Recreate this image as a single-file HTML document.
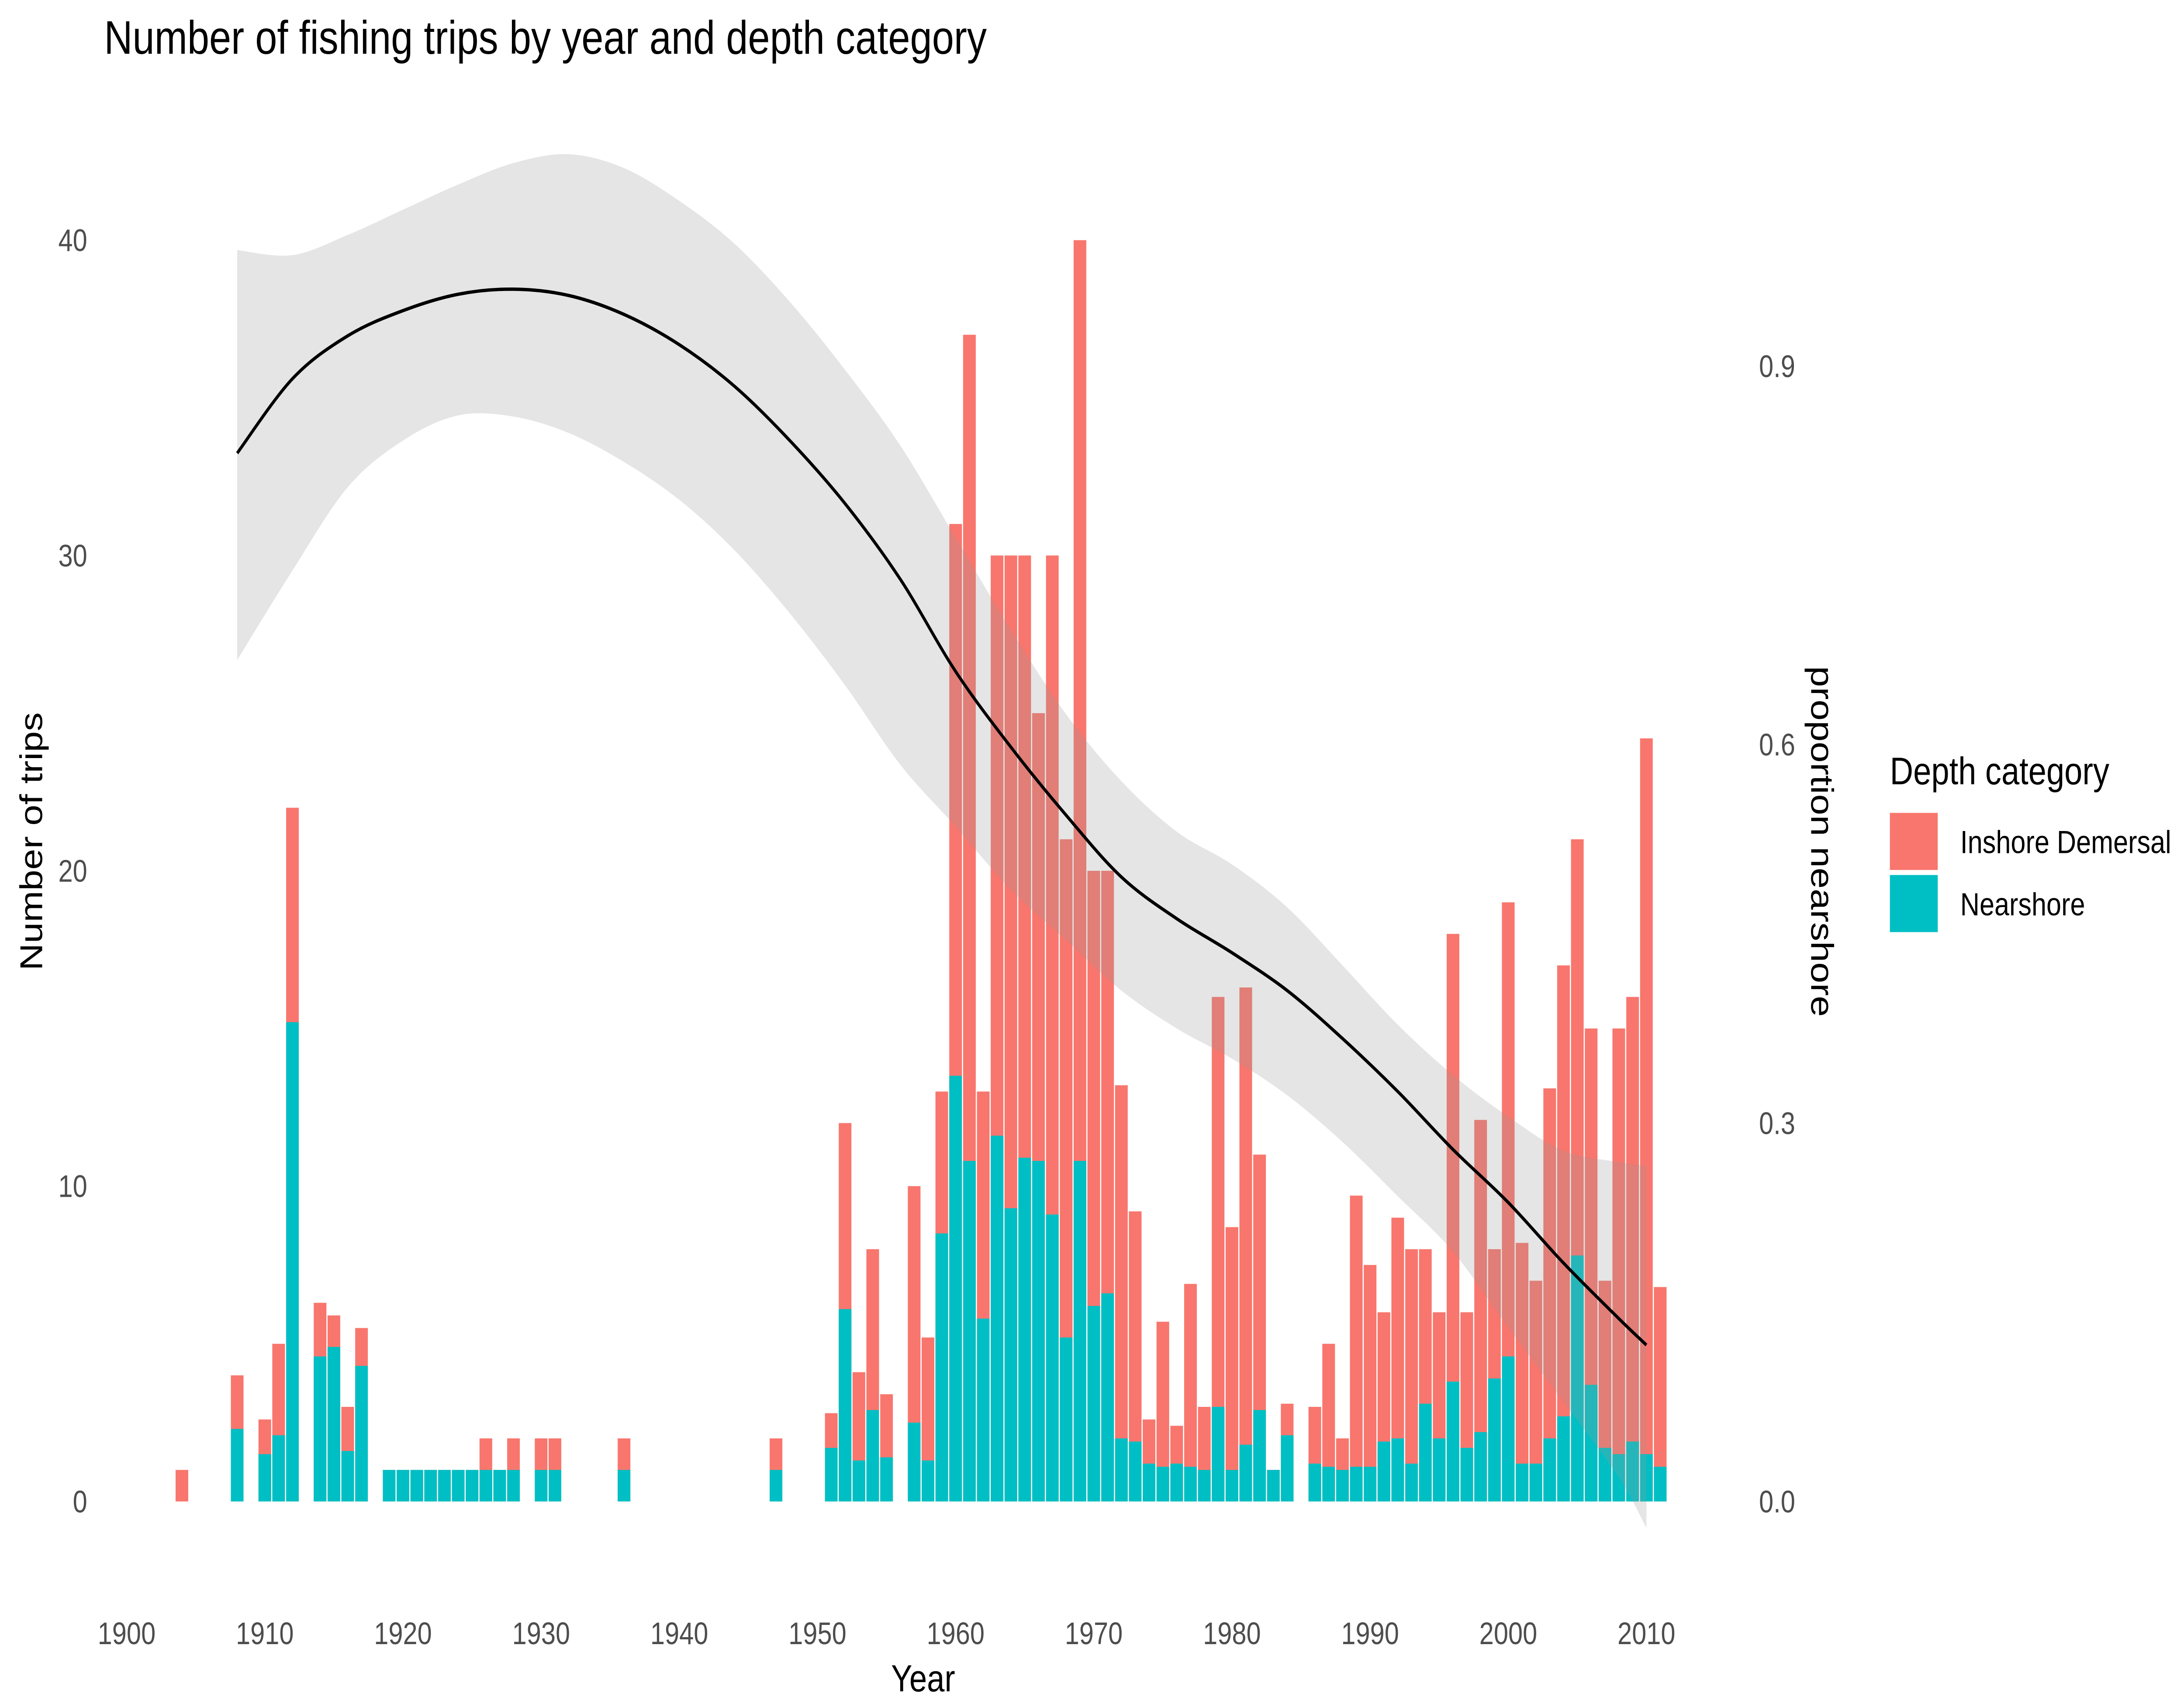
<!DOCTYPE html>
<html><head><meta charset="utf-8"><style>
html,body{margin:0;padding:0;background:#fff;overflow:hidden;width:100%;height:100%;}
svg{display:block;width:100vw;height:100vh;font-family:"Liberation Sans",sans-serif;}
</style></head><body>
<svg id="chart" viewBox="0 0 1552 1014.6" preserveAspectRatio="none">
<text x="74" y="32" font-size="28" fill="#000">Number of fishing trips by year and depth category</text>
<g id="bars"></g>
<g id="smooth"></g>
<g id="axes"></g>
<text x="0" y="0" transform="translate(30,501) rotate(-90)" text-anchor="middle" font-size="22.5">Number of trips</text>
<text x="0" y="0" transform="translate(1287,501) rotate(90)" text-anchor="middle" font-size="22.5">proportion nearshore</text>
<text x="656" y="1007" text-anchor="middle" font-size="22.5">Year</text>
<g>
<text x="1343" y="467" font-size="23">Depth category</text>
<rect x="1343" y="484" width="34" height="34" fill="#F8766D"/>
<text x="1393" y="508" font-size="19">Inshore Demersal</text>
<rect x="1343" y="521" width="34" height="34" fill="#00BFC4"/>
<text x="1393" y="545" font-size="19">Nearshore</text>
</g>
</svg>
<script>
const years=[1904,1908,1910,1911,1912,1914,1915,1916,1917,1919,1920,1921,1922,1923,1924,1925,1926,1927,1928,1930,1931,1936,1947,1951,1952,1953,1954,1955,1957,1958,1959,1960,1961,1962,1963,1964,1965,1966,1967,1968,1969,1970,1971,1972,1973,1974,1975,1976,1977,1978,1979,1980,1981,1982,1983,1984,1986,1987,1988,1989,1990,1991,1992,1993,1994,1995,1996,1997,1998,1999,2000,2001,2002,2003,2004,2005,2006,2007,2008,2009,2010,2011];
const totals=[1,4,2.6,5,22,6.3,5.9,3,5.5,1,1,1,1,1,1,1,2,1,2,2,2,2,2,2.8,12,4.1,8,3.4,10,5.2,13,31,37,13,30,30,30,25,30,21,40,20,20,13.2,9.2,2.6,5.7,2.4,6.9,3,16,8.7,16.3,11,1,3.1,3,5,2,9.7,7.5,6,9,8,8,6,18,6,12.1,8,19,8.2,7,13.1,17,21,15,7,15,16,24.2,6.8];
const nearshore=[0,2.3,1.5,2.1,15.2,4.6,4.9,1.6,4.3,1,1,1,1,1,1,1,1,1,1,1,1,1,1,1.7,6.1,1.3,2.9,1.4,2.5,1.3,8.5,13.5,10.8,5.8,11.6,9.3,10.9,10.8,9.1,5.2,10.8,6.2,6.6,2.0,1.9,1.2,1.1,1.2,1.1,1,3,1,1.8,2.9,1,2.1,1.2,1.1,1,1.1,1.1,1.9,2,1.2,3.1,2,3.8,1.7,2.2,3.9,4.6,1.2,1.2,2,2.7,7.8,3.7,1.7,1.5,1.9,1.5,1.1];
const fitYears=[1908,1912,1916,1920,1924,1928,1932,1936,1940,1944,1948,1952,1956,1960,1964,1968,1972,1976,1980,1984,1988,1992,1996,2000,2004,2008,2010];
const fitValues=[.831,.890,.924,.944,.957,.961,.956,.941,.917,.884,.841,.791,.731,.658,.598,.544,.495,.462,.435,.405,.367,.325,.279,.237,.189,.145,.124];
const fitUpper=[.992,.988,1.004,1.024,1.044,1.061,1.068,1.057,1.031,.997,.951,.897,.837,.764,.691,.624,.571,.531,.505,.471,.425,.378,.338,.305,.278,.269,.266];
const fitLower=[.667,.738,.804,.841,.861,.860,.847,.824,.794,.754,.704,.647,.584,.535,.485,.445,.405,.375,.351,.322,.285,.242,.198,.138,.079,.019,-.021];
const xTicks=[1900,1910,1920,1930,1940,1950,1960,1970,1980,1990,2000,2010];
const yTicks=[0,10,20,30,40];
const y2Ticks=[0.0,0.3,0.6,0.9];

const NS="http://www.w3.org/2000/svg";
const X=y=>90+(y-1900)*9.818;
const Y=v=>894-v*18.775;
const Y2=p=>894-p*751.1;
function mk(tag,attrs,parent){const e=document.createElementNS(NS,tag);for(const k in attrs)e.setAttribute(k,attrs[k]);parent.appendChild(e);return e;}
const bars=document.getElementById('bars');
years.forEach((yr,i)=>{
  const x=X(yr)-4.5;
  const r1=mk('rect',{x:x,y:Y(totals[i]),width:9,height:Y(0)-Y(totals[i]),fill:'#F8766D'},bars);
  
  
  if(nearshore[i]>0){
    const r2=mk('rect',{x:x,y:Y(nearshore[i]),width:9,height:Y(0)-Y(nearshore[i]),fill:'#00BFC4'},bars);
    
    
  }
});
const sm=document.getElementById('smooth');
function smoothPath(xs,ys){let d='M'+xs[0]+','+ys[0];for(let i=0;i<xs.length-1;i++){const x0=xs[Math.max(i-1,0)],y0=ys[Math.max(i-1,0)],x1=xs[i],y1=ys[i],x2=xs[i+1],y2=ys[i+1],x3=xs[Math.min(i+2,xs.length-1)],y3=ys[Math.min(i+2,xs.length-1)];d+=' C'+(x1+(x2-x0)/6)+','+(y1+(y2-y0)/6)+' '+(x2-(x3-x1)/6)+','+(y2-(y3-y1)/6)+' '+x2+','+y2;}return d;}
const fx=fitYears.map(X);
const up=smoothPath(fx,fitUpper.map(Y2));
const lo=smoothPath(fx.slice().reverse(),fitLower.map(Y2).reverse());
const band=mk('path',{d:up+' L'+lo.slice(1)+' Z',fill:'#999999','fill-opacity':0.25},sm);


const line=mk('path',{d:smoothPath(fx,fitValues.map(Y2)),fill:'none',stroke:'#000','stroke-width':2},sm);


const ax=document.getElementById('axes');
xTicks.forEach(t=>{const e=mk('text',{x:X(t),y:979,'text-anchor':'middle','font-size':18.5,fill:'#4d4d4d'},ax);e.textContent=t;

});
yTicks.forEach(t=>{const e=mk('text',{x:62,y:Y(t)+6.5,'text-anchor':'end','font-size':18.5,fill:'#4d4d4d'},ax);e.textContent=t;

});
y2Ticks.forEach(t=>{const e=mk('text',{x:1250,y:Y2(t)+6.5,'font-size':18.5,fill:'#4d4d4d'},ax);e.textContent=t.toFixed(1);

});
</script>
</body></html>
